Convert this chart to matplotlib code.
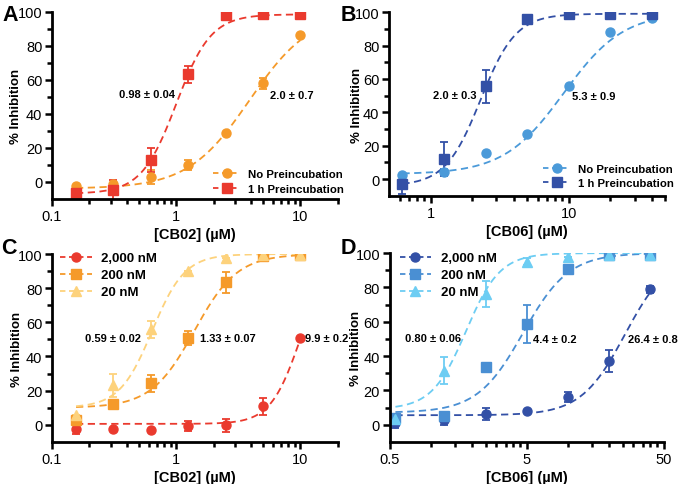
import numpy as np
import matplotlib
matplotlib.use("Agg")
import matplotlib.pyplot as plt
from matplotlib.ticker import FixedLocator, NullFormatter

plt.rcParams['font.family'] = ['Liberation Sans', 'DejaVu Sans']

# ---- data ----
conc_cb02 = [0.156, 0.3125, 0.625, 1.25, 2.5, 5, 10]
conc_cb06_b = [0.625, 1.25, 2.5, 5, 10, 20, 40]
conc_cb06_d = [0.55, 1.25, 2.5, 5, 10, 20, 40]

# panel A
a_nopre = [-2.5, -1.5, 2.7, 10, 28.4, 57.8, 86]
a_nopre_err = [0, 0, 4, 3, 0, 3, 0]
a_pre = [-6.8, -4.9, 12.6, 63.2, 98, 98.4, 98.4]
a_pre_err = [0, 6, 7, 5, 0, 0, 0]

# panel B
b_nopre = [2.6, 4.4, 15.6, 27, 55.6, 88, 96.4]
b_nopre_err = [0, 2, 0, 0, 0, 0, 0]
b_pre = [-3, 12, 55.6, 96, 98.6, 98.8, 99]
b_pre_err = [6, 10, 10, 0, 0, 0, 0]

# panel C
c_2000 = [-2.7, -2.3, -2.9, -0.8, -0.4, 10.7, 50.7]
c_2000_err = [3, 0, 0, 3, 4, 5, 0]
c_200 = [2.5, 12.3, 24.4, 50.7, 83.4, 98.6, 99.4]
c_200_err = [0, 2, 5, 4, 6, 0, 0]
c_20 = [5.5, 23, 56, 89.9, 97.7, 99.4, 99.4]
c_20_err = [0, 7, 5, 0, 0, 0, 0]

# panel D
d_2000 = [0.8, 2.7, 6.2, 7.8, 16, 37, 79]
d_2000_err = [3, 3, 3.5, 0, 3, 6.5, 2]
d_200 = [3.9, 5.3, 33.5, 58.8, 91, 99, 99.2]
d_200_err = [0, 0, 2, 11, 0, 0, 0]
d_20 = [3.3, 31.5, 76.3, 95.1, 97.7, 99.2, 99.2]
d_20_err = [0, 8, 7.5, 2, 0, 0, 0]

# fitted dose-response curves: (bottom, top, ec50, hill)
fit_a_nopre = (-4, 100, 3.9, 1.75)
fit_a_pre = (-7, 98.4, 1.0, 3.1)
fit_b_nopre = (3, 100, 9.2, 2.0)
fit_b_pre = (-4, 99, 2.3, 3.4)
fit_c_2000 = (0.5, 100, 10, 3.6)
fit_c_200 = (10, 100, 1.4, 2.5)
fit_c_20 = (10, 100, 0.64, 3.3)
fit_d_2000 = (5.5, 100, 26.1, 2.7)
fit_d_200 = (7, 100, 4.7, 2.6)
fit_d_20 = (9, 100, 1.8, 3.5)

labels_pre = ["No Preincubation", "1 h Preincubation"]
labels_conc = ["2,000 nM", "200 nM", "20 nM"]

red = "#ea3a2e"
orange = "#f59a2a"
yellow = "#fdd27c"
lblue = "#4b9ad9"
dblue = "#3350a6"
mblue = "#4a8fd3"
cyan = "#6dcdf3"


def hill(x, p):
    bottom, top, ec50, h = p
    return bottom + (top - bottom) / (1 + (ec50 / x) ** h)


def series(ax, x, y, err, fit, color, marker, label):
    xs = np.logspace(np.log10(x[0]), np.log10(x[-1]), 200)
    ax.plot(xs, hill(xs, fit), ls=(0, (4, 2.5)), color=color, lw=1.3)
    ax.errorbar(x, y, yerr=err, fmt=marker, color=color, ms=6.5,
                capsize=3, elinewidth=1.3, capthick=1.3)
    ax.plot([], [], ls=(0, (3, 2)), color=color, lw=1.3, marker=marker,
            ms=6.5, label=label)


def style(ax, xlim, majors, minors, xlabel, ylab_x):
    ax.set_xscale("log")
    ax.set_xlim(*xlim)
    ax.set_ylim(-10, 100)
    ax.xaxis.set_major_locator(FixedLocator(majors))
    ax.xaxis.set_minor_locator(FixedLocator(minors))
    ax.xaxis.set_minor_formatter(NullFormatter())
    ax.set_xticklabels([("%g" % m) for m in majors])
    ax.set_yticks([0, 20, 40, 60, 80, 100])
    ax.set_yticks([10, 30, 50, 70, 90], minor=True)
    for s in ["top", "right"]:
        ax.spines[s].set_visible(False)
    ax.spines["left"].set_linewidth(2)
    ax.spines["bottom"].set_linewidth(2)
    ax.tick_params(which="major", length=5, width=1.8, labelsize=10.5, pad=2)
    ax.tick_params(which="minor", length=3.5, width=1.8)
    ax.set_xlabel(xlabel, fontsize=10.5, fontweight="bold", labelpad=3)
    ax.set_ylabel("% Inhibition", fontsize=9.5, fontweight="bold")
    ax.yaxis.set_label_coords(ylab_x, 0.5)


def note(ax, x, y, s, ha="center"):
    ax.text(x, y, s, fontsize=8, fontweight="bold", ha=ha, va="center")


def legend(ax, x, y, size, spacing):
    ax.legend(loc="upper left", bbox_to_anchor=(x, y), frameon=False,
              prop={"weight": "bold", "size": size}, handlelength=2.4,
              handletextpad=0.7, labelspacing=spacing, numpoints=1,
              borderpad=0, borderaxespad=0)


fig = plt.figure(figsize=(6.85, 4.85), dpi=100)
axA = fig.add_axes([0.076, 0.588, 0.417, 0.386])
axB = fig.add_axes([0.568, 0.594, 0.403, 0.379])
axC = fig.add_axes([0.076, 0.087, 0.417, 0.387])
axD = fig.add_axes([0.569, 0.087, 0.400, 0.389])

minors_a = [0.2, 0.3, 0.4, 0.5, 0.6, 0.7, 0.8, 0.9,
            2, 3, 4, 5, 6, 7, 8, 9, 20]
minors_b = [0.6, 0.7, 0.8, 0.9, 2, 3, 4, 5, 6, 7, 8, 9, 20, 30, 40, 50]
minors_d = [1, 1.5, 2, 2.5, 3, 3.5, 4, 4.5,
            10, 15, 20, 25, 30, 35, 40, 45]

# A
series(axA, conc_cb02, a_nopre, a_nopre_err, fit_a_nopre, orange, "o", labels_pre[0])
series(axA, conc_cb02, a_pre, a_pre_err, fit_a_pre, red, "s", labels_pre[1])
style(axA, (0.1, 20), [0.1, 1, 10], minors_a, "[CB02] (µM)", -0.105)
note(axA, 0.58, 51.5, "0.98 ± 0.04")
note(axA, 8.6, 51, "2.0 ± 0.7")
legend(axA, 0.563, 0.16, 8.2, 0.45)

# B
series(axB, conc_cb06_b, b_nopre, b_nopre_err, fit_b_nopre, lblue, "o", labels_pre[0])
series(axB, conc_cb06_b, b_pre, b_pre_err, fit_b_pre, dblue, "s", labels_pre[1])
style(axB, (0.5, 50), [1, 10], minors_b, "[CB06] (µM)", -0.094)
note(axB, 1.49, 50.6, "2.0 ± 0.3")
note(axB, 15.3, 50, "5.3 ± 0.9")
legend(axB, 0.558, 0.175, 8.2, 0.35)

# C
series(axC, conc_cb02, c_2000, c_2000_err, fit_c_2000, red, "o", labels_conc[0])
series(axC, conc_cb02, c_200, c_200_err, fit_c_200, orange, "s", labels_conc[1])
series(axC, conc_cb02, c_20, c_20_err, fit_c_20, yellow, "^", labels_conc[2])
style(axC, (0.1, 20), [0.1, 1, 10], minors_a, "[CB02] (µM)", -0.101)
note(axC, 0.31, 50.7, "0.59 ± 0.02")
note(axC, 2.6, 50.7, "1.33 ± 0.07")
note(axC, 11.0, 50.7, "9.9 ± 0.2", ha="left")
legend(axC, 0.028, 1.01, 9.5, 0.35)

# D
series(axD, conc_cb06_d, d_2000, d_2000_err, fit_d_2000, dblue, "o", labels_conc[0])
series(axD, conc_cb06_d, d_200, d_200_err, fit_d_200, mblue, "s", labels_conc[1])
series(axD, conc_cb06_d, d_20, d_20_err, fit_d_20, cyan, "^", labels_conc[2])
style(axD, (0.5, 50), [0.5, 5, 50], minors_d, "[CB06] (µM)", -0.102)
note(axD, 1.04, 50.4, "0.80 ± 0.06")
note(axD, 8.0, 50, "4.4 ± 0.2")
note(axD, 41.6, 50, "26.4 ± 0.8")
legend(axD, 0.036, 1.005, 9.5, 0.35)

# panel letters
for letter, x, y in [("A", 0.004, 0.968), ("B", 0.497, 0.968),
                     ("C", 0.002, 0.488), ("D", 0.497, 0.488)]:
    fig.text(x, y, letter, fontsize=15.5, fontweight="bold", ha="left", va="center")

fig.savefig("out.png", dpi=100)
